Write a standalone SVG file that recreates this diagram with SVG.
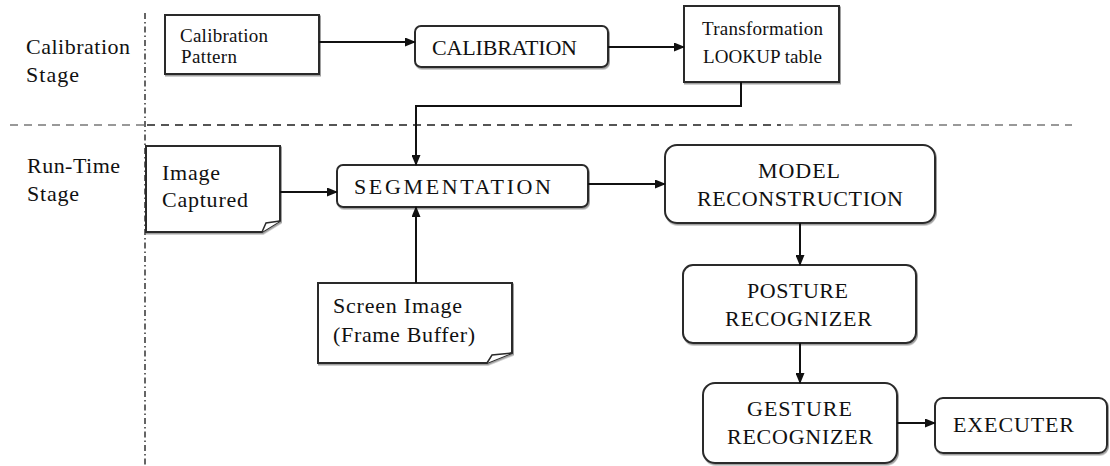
<svg xmlns="http://www.w3.org/2000/svg" width="1110" height="466" viewBox="0 0 1110 466">
<style>
  .box { fill: #fff; stroke: #2a2a2a; stroke-width: 2; filter: url(#sh); }
  text { font-family: 'Liberation Serif', 'Times New Roman', serif; fill: #111; }
  .t { font-size: 22px; }
  .s { font-size: 19px; }
  .edge { fill: none; stroke: #111; stroke-width: 2; marker-end: url(#arr); }
  .dash { stroke-width: 2; stroke-dasharray: 8 6; }
</style>
<defs>
  <marker id="arr" markerUnits="userSpaceOnUse" markerWidth="11" markerHeight="9" refX="10" refY="4.5" orient="auto">
    <path d="M0,0 L11,4.5 L0,9 Z" fill="#111"/>
  </marker>
  <filter id="sh" x="-5%" y="-5%" width="115%" height="125%">
    <feDropShadow dx="1" dy="1.5" stdDeviation="0.6" flood-color="#888" flood-opacity="0.8"/>
  </filter>
</defs>
<rect width="1110" height="466" fill="#fff"/>

<g id="separators">
  <line class="dash" x1="10" y1="125" x2="145" y2="125" stroke="#999"/>
  <line class="dash" x1="147" y1="125" x2="781" y2="125" stroke="#555"/>
  <line class="dash" x1="785" y1="125" x2="1072" y2="125" stroke="#999"/>
  <line x1="145" y1="13" x2="145" y2="466" stroke="#333" stroke-width="1.5" stroke-dasharray="6 3 1.5 3"/>
</g>

<g id="label-calibration-stage">
  <text class="t" x="26" y="54" textLength="104" lengthAdjust="spacing">Calibration</text>
  <text class="t" x="26" y="82" textLength="53" lengthAdjust="spacing">Stage</text>
</g>
<g id="label-runtime-stage">
  <text class="t" x="27" y="173" textLength="93" lengthAdjust="spacing">Run-Time</text>
  <text class="t" x="27" y="201" textLength="52" lengthAdjust="spacing">Stage</text>
</g>

<g id="calibration-pattern">
  <rect class="box" x="165" y="15" width="154" height="59"/>
  <text class="s" x="180" y="42" textLength="88" lengthAdjust="spacing">Calibration</text>
  <text class="s" x="181" y="63" textLength="56" lengthAdjust="spacing">Pattern</text>
</g>

<g id="calibration">
  <rect class="box" x="415" y="26" width="193" height="41" rx="6"/>
  <text class="t" x="432" y="55" textLength="145" lengthAdjust="spacing">CALIBRATION</text>
</g>

<g id="transformation">
  <rect class="box" x="684" y="6" width="155" height="76"/>
  <text class="s" x="702" y="35" textLength="121" lengthAdjust="spacing">Transformation</text>
  <text class="s" x="703" y="63" textLength="119" lengthAdjust="spacing">LOOKUP table</text>
</g>

<g id="image-captured">
  <path class="box" d="M146,146 H280 V221 L262,232 H146 Z"/>
  <path d="M262,232 L266,223 L280,221" fill="#fff" stroke="#2a2a2a" stroke-width="1.5"/>
  <text class="t" x="162" y="180" textLength="58" lengthAdjust="spacing">Image</text>
  <text class="t" x="162" y="207" textLength="86" lengthAdjust="spacing">Captured</text>
</g>

<g id="segmentation">
  <rect class="box" x="337" y="165" width="251" height="42" rx="6"/>
  <text class="t" x="354" y="194" textLength="197" lengthAdjust="spacing">SEGMENTATION</text>
</g>

<g id="screen-image">
  <path class="box" d="M318,283 H512 V353 L487,363 H318 Z"/>
  <path d="M487,363 L492,355 L512,353" fill="#fff" stroke="#2a2a2a" stroke-width="1.5"/>
  <text class="t" x="333" y="313" textLength="129" lengthAdjust="spacing">Screen Image</text>
  <text class="t" x="333" y="342" textLength="142" lengthAdjust="spacing">(Frame Buffer)</text>
</g>

<g id="model-reconstruction">
  <rect class="box" x="665" y="145" width="270" height="78" rx="12"/>
  <text class="t" x="758" y="178" textLength="82" lengthAdjust="spacing">MODEL</text>
  <text class="t" x="697" y="206" textLength="206" lengthAdjust="spacing">RECONSTRUCTION</text>
</g>

<g id="posture-recognizer">
  <rect class="box" x="683" y="265" width="233" height="78" rx="10"/>
  <text class="t" x="747" y="298" textLength="101" lengthAdjust="spacing">POSTURE</text>
  <text class="t" x="725" y="326" textLength="147" lengthAdjust="spacing">RECOGNIZER</text>
</g>

<g id="gesture-recognizer">
  <rect class="box" x="703" y="383" width="194" height="80" rx="12"/>
  <text class="t" x="747" y="416" textLength="105" lengthAdjust="spacing">GESTURE</text>
  <text class="t" x="727" y="444" textLength="146" lengthAdjust="spacing">RECOGNIZER</text>
</g>

<g id="executer">
  <rect class="box" x="935" y="398" width="172" height="55" rx="8"/>
  <text class="t" x="953" y="432" textLength="121" lengthAdjust="spacing">EXECUTER</text>
</g>

<g id="connectors">
  <path class="edge" d="M319,42 H415"/>
  <path class="edge" d="M608,47 H684"/>
  <path class="edge" d="M741,82 V106 H416 V165"/>
  <path class="edge" d="M280,192 H337"/>
  <path class="edge" d="M416,283 V207"/>
  <path class="edge" d="M588,184 H665"/>
  <path class="edge" d="M800,223 V265"/>
  <path class="edge" d="M800,343 V383"/>
  <path class="edge" d="M897,423 H935"/>
</g>
</svg>
